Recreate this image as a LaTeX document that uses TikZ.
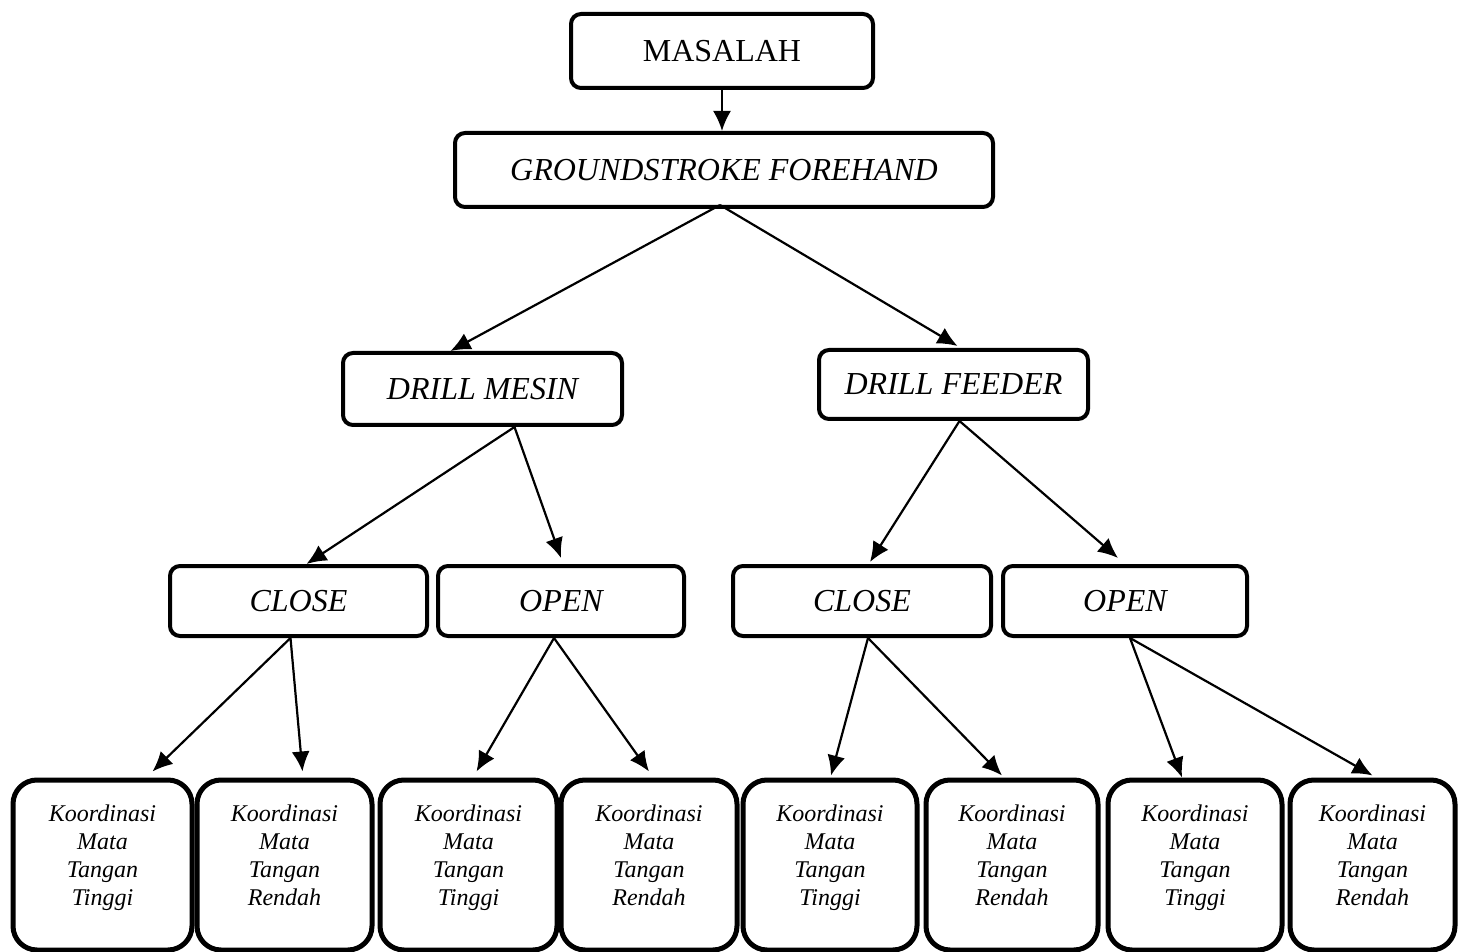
\documentclass[tikz,border=0pt]{standalone}
\usepackage{fontspec}
\setmainfont{Liberation Serif}
\usetikzlibrary{arrows.meta,positioning}

\begin{document}
\begin{tikzpicture}[x=0.5pt,y=-0.5pt,>={Latex[length=10pt,width=9pt]},
	box/.style={draw, line width=2pt, rounded corners=5pt, minimum height=35pt, font=\fontsize{16}{19}\selectfont\itshape},
	leaf/.style={draw, line width=2.5pt, rounded corners=12pt, minimum height=85pt, align=center, font=\fontsize{12}{14}\selectfont\itshape},
	link/.style={->, line width=1.1pt}]
			\useasboundingbox (0,0) rectangle (1458,952);
			% Top
			\node[box, font=\fontsize{16}{19}\selectfont, minimum width=151pt, minimum height=37pt] (masalah) at (722,51) {MASALAH};
			\node[box, minimum width=269pt, minimum height=37pt] (stroke) at (724,170) {GROUNDSTROKE FOREHAND};
			
			% Drills
			\node[box, minimum width=139.5pt, minimum height=36pt] (mesin) at (482.5,389) {DRILL MESIN};
			\node[box, minimum width=134.5pt, minimum height=34.5pt] (feeder) at (953.5,384.5) {DRILL FEEDER};
			
			% Close / open
			\node[box, minimum width=128.5pt] (closeA) at (298.5,601) {CLOSE};
			\node[box, minimum width=123pt] (openA) at (561,601) {OPEN};
			\node[box, minimum width=129pt] (closeB) at (862,601) {CLOSE};
			\node[box, minimum width=122pt] (openB) at (1125,601) {OPEN};
			
			% Koordinasi mata tangan
			\node[leaf, minimum width=89.5pt] (leafA) at (102.5,865) {Koordinasi\\Mata\\Tangan\\Tinggi\\[-4pt]\mbox{}};
			\node[leaf, minimum width=87.5pt] (leafB) at (284.5,865) {Koordinasi\\Mata\\Tangan\\Rendah\\[-4pt]\mbox{}};
			\node[leaf, minimum width=88.5pt] (leafC) at (468.5,865) {Koordinasi\\Mata\\Tangan\\Tinggi\\[-4pt]\mbox{}};
			\node[leaf, minimum width=88pt] (leafD) at (649,865) {Koordinasi\\Mata\\Tangan\\Rendah\\[-4pt]\mbox{}};
			\node[leaf, minimum width=87pt] (leafE) at (830,865) {Koordinasi\\Mata\\Tangan\\Tinggi\\[-4pt]\mbox{}};
			\node[leaf, minimum width=86pt] (leafF) at (1012,865) {Koordinasi\\Mata\\Tangan\\Rendah\\[-4pt]\mbox{}};
			\node[leaf, minimum width=87pt] (leafG) at (1195,865) {Koordinasi\\Mata\\Tangan\\Tinggi\\[-4pt]\mbox{}};
			\node[leaf, minimum width=82.5pt] (leafH) at (1372.5,865) {Koordinasi\\Mata\\Tangan\\Rendah\\[-4pt]\mbox{}};
			
			% Arrows
			\draw[link] (masalah.south) -- (masalah.south |- stroke.north);
			\draw[link] ([xshift=-2pt,yshift=2pt]stroke.south) -- ([xshift=-16pt]mesin.north);
			\draw[link] ([xshift=-2pt,yshift=2pt]stroke.south) -- ([xshift=2pt,yshift=1pt]feeder.north);
			\draw[link] ([xshift=16pt]mesin.south) -- ([xshift=4pt]closeA.north);
			\draw[link] ([xshift=16pt]mesin.south) -- ([yshift=3pt]openA.north);
			\draw[link] ([xshift=3pt]feeder.south) -- ([xshift=4pt,yshift=1pt]closeB.north);
			\draw[link] ([xshift=3pt]feeder.south) -- ([xshift=-3.5pt,yshift=3pt]openB.north);
			\draw[link] ([xshift=-4pt]closeA.south) -- ([xshift=25pt,yshift=3pt]leafA.north);
			\draw[link] ([xshift=-4pt]closeA.south) -- ([xshift=9pt,yshift=3pt]leafB.north);
			\draw[link] ([xshift=-3.5pt]openA.south) -- ([xshift=4pt,yshift=3pt]leafC.north);
			\draw[link] ([xshift=-3.5pt]openA.south) -- ([yshift=3pt]leafD.north);
			\draw[link] ([xshift=3pt]closeB.south) -- ([xshift=0.5pt,yshift=1pt]leafE.north);
			\draw[link] ([xshift=3pt]closeB.south) -- ([xshift=-5pt,yshift=1pt]leafF.north);
			\draw[link] ([xshift=2.5pt]openB.south) -- ([xshift=-6.5pt]leafG.north);
			\draw[link] ([xshift=2.5pt]openB.south) -- ([yshift=1pt]leafH.north);
		\end{tikzpicture}
\end{document}
